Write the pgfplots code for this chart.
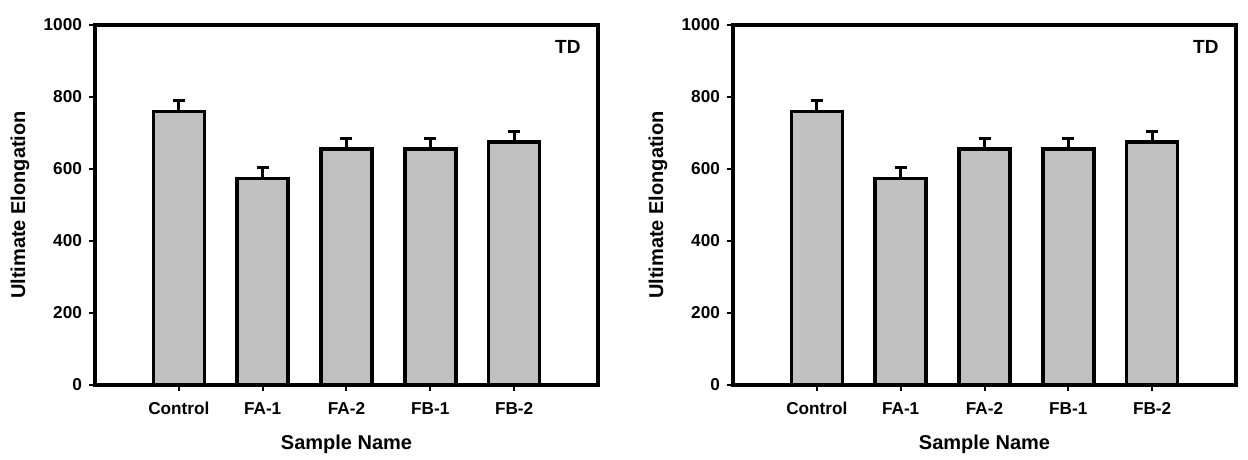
\documentclass[border=0pt]{standalone}
\usepackage{fontspec}
\setmainfont{Liberation Sans}
\usepackage{pgfplots}
\pgfplotsset{compat=1.18}
\definecolor{barGray}{HTML}{C0C0C0}
\pgfplotsset{
 panel/.style={
  width=251.5pt, height=180pt, scale only axis,
  ybar, bar width=25.5pt,
  xmin=-1, xmax=5, ymin=0, ymax=1000,
  xtick={0,1,2,3,4}, xticklabels={Control,FA-1,FA-2,FB-1,FB-2},
  ytick={0,200,400,600,800,1000},
  tick pos=left, tick align=outside,
  major tick length=3pt,
  every tick/.style={black, line width=1pt},
  axis line style={line width=2pt},
  /pgf/number format/assume math mode=true,
  /pgf/number format/1000 sep={},
  tick label style={font=\bfseries\fontsize{8.6}{10}\selectfont},
  xticklabel style={anchor=base, yshift=-12pt},
  xlabel={Sample Name}, ylabel={Ultimate Elongation},
  every axis x label/.style={at={(axis description cs:0.5,0)}, yshift=-29.5pt, anchor=center, font=\bfseries\fontsize{10}{12}\selectfont},
  every axis y label/.style={at={(axis description cs:0,0.5)}, xshift=-37.5pt, rotate=90, anchor=center, font=\bfseries\fontsize{10}{12}\selectfont},
 },
 bars/.style={fill=barGray, draw=black, line width=1.7pt,
  error bars/.cd, y dir=plus, y explicit,
  error bar style={line width=1.5pt, black},
  error mark options={rotate=90, mark size=3pt, line width=1.5pt, black}},
}
\pgfplotstableread{
x y e
0 760 30
1 573 31
2 656 29
3 656 29
4 675 28
}\datatable
\begin{document}
\begin{tikzpicture}
\useasboundingbox (0,0) rectangle (624pt,230pt);
\begin{axis}[panel, at={(47.5pt,37.5pt)}, anchor=south west]
\addplot[bars] table[x=x, y=y, y error=e] {\datatable};
\node[font=\bfseries\fontsize{9.5}{11}\selectfont] at (rel axis cs:0.94,0.939) {TD};
\end{axis}
\begin{axis}[panel, at={(366.5pt,37.5pt)}, anchor=south west]
\addplot[bars] table[x=x, y=y, y error=e] {\datatable};
\node[font=\bfseries\fontsize{9.5}{11}\selectfont] at (rel axis cs:0.94,0.939) {TD};
\end{axis}
\end{tikzpicture}
\end{document}
